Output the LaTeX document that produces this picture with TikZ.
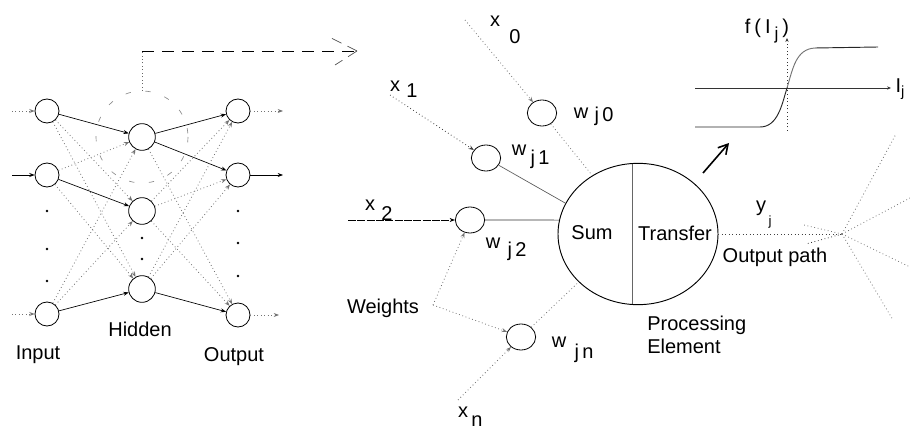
\documentclass[tikz,border=0pt]{standalone}
\usepackage{fontspec}
\setmainfont{Liberation Sans}
\usetikzlibrary{arrows.meta,shapes.geometric}
\begin{document}
\begin{tikzpicture}[x=0.75pt,y=-0.75pt,
  font=\fontsize{15}{17}\selectfont,
  neuron/.style={circle,draw,line width=0.6pt,minimum size=18pt,inner sep=0pt},
  hid/.style={neuron,minimum size=20pt},
  wt/.style={ellipse,draw,line width=0.6pt,minimum width=22pt,minimum height=19.5pt,inner sep=0pt},
  pe/.style={ellipse,draw,line width=0.7pt,minimum width=120pt,minimum height=106pt,inner sep=0pt},
  solidc/.style={line width=0.5pt,-{Stealth[length=4pt,width=3pt]}},
  dotc/.style={line width=0.6pt,black!55,dotted,-{Stealth[length=4pt,width=3pt]}},
  dotl/.style={line width=0.6pt,black!55,dotted},
  darkl/.style={line width=0.5pt,black!80},
  lbl/.style={inner sep=0pt},
]
\useasboundingbox (0,0) rectangle (910,431);

% ---------------- left network ----------------
\node[neuron] (i1) at (47,111) {};
\node[neuron] (i2) at (47,175) {};
\node[neuron] (i3) at (47,314) {};
\node[hid] (h1) at (142,137) {};
\node[hid] (h2) at (142,211) {};
\node[hid] (h3) at (142,289) {};
\node[neuron] (o1) at (238,111) {};
\node[neuron] (o2) at (238,175) {};
\node[neuron] (o3) at (238,315) {};

\foreach \p in {(47,211),(47,249),(47,281),(142,238),(142,259),(238,211),(238,243),(238,276)}
  \fill \p circle[radius=1.4];

\coordinate (in1) at (12,111);
\coordinate (in2) at (12,175);
\coordinate (in3) at (12,314);
\coordinate (out1) at (283,111);
\coordinate (out2) at (283,175);
\coordinate (out3) at (279,315);
\draw[dotc] (in1) -- (i1);
\draw[solidc] (in2) -- (i2);
\draw[dotc] (in3) -- (i3);
\draw[dotc] (o1) -- (out1);
\draw[solidc] (o2) -- (out2);
\draw[dotc] (o3) -- (out3);

\draw[solidc] (i1) -- (h1);
\draw[dotc] (i1) -- (h2);
\draw[dotc] (i1) -- (h3);
\draw[dotc] (i2) -- (h1);
\draw[solidc] (i2) -- (h2);
\draw[dotc] (i2) -- (h3);
\draw[dotc] (i3) -- (h1);
\draw[dotc] (i3) -- (h2);
\draw[solidc] (i3) -- (h3);
\draw[solidc] (h1) -- (o1);
\draw[solidc] (h1) -- (o2);
\draw[dotc] (h1) -- (o3);
\draw[dotc] (h2) -- (o1);
\draw[dotc] (h2) -- (o2);
\draw[dotc] (h2) -- (o3);
\draw[dotc] (h3) -- (o1);
\draw[dotc] (h3) -- (o2);
\draw[solidc] (h3) -- (o3);

% zoom callout
\draw[black!45,line width=0.5pt,dash pattern=on 4pt off 11pt] (h1.center) circle[radius=46];
\coordinate (ctop) at (142,91);
\coordinate (corner) at (142,51);
\coordinate (ztip) at (357,51);
\draw[black!60,dotted,line width=0.6pt] (ctop) -- (corner);
\draw[line width=0.7pt,dash pattern=on 9pt off 6pt] (corner) -- (ztip);
\draw[black!70,line width=0.5pt,dash pattern=on 8pt off 5pt] (ztip) -- ++(-28,-14);
\draw[black!70,line width=0.5pt,dash pattern=on 8pt off 5pt] (ztip) -- ++(-22,14);

\node[lbl] (linput) at (38,355) {Input};
\node[lbl] (lhidden) at (140,329) {Hidden};
\node[lbl] (loutput) at (234,357) {Output};

% ---------------- processing element ----------------
\node[pe] (pe) at (638,234) {};
\draw[black!60,line width=0.5pt] (632,164) -- (632,304);
\node[lbl] (sum) at (592,233) {Sum};
\node[lbl] (transfer) at (675,233) {Transfer};

\node[wt] (w0) at (542,113) {};
\node[wt] (w1) at (486,158) {};
\node[wt] (w2) at (470,220) {};
\node[wt] (wn) at (521,337) {};

\coordinate (sx0) at (465,20);
\coordinate (sx1) at (390,95);
\coordinate (sx2) at (348,220);
\coordinate (sxn) at (458,400);
\draw[dotc] (sx0) -- (w0);
\draw[dotc,black!75] (sx1) -- (w1);
\draw[solidc,dash pattern=on 6pt off 1pt] (sx2) -- (w2);
\draw[dotc] (sxn) -- (wn);

\draw[dotl] (w0) -- (pe.128);
\draw[darkl,black!65] (w1) -- (pe.157);
\draw[darkl] (w2) -- (pe.170);
\draw[dotl] (wn) -- (pe.219);

\node[lbl] (weights) at (383,308) {Weights};
\coordinate (wsrc) at (433,305);
\draw[dotc] (wsrc) -- (w2);
\draw[dotc] (wsrc) -- (wn);

% labels x, w
\node[lbl] (lx0) at (495,21) {x};
\node[lbl] (lx0s) at (515,37) {0};
\node[lbl] (lx1) at (395,86) {x};
\node[lbl] (lx1s) at (412,91) {1};
\node[lbl] (lx2) at (370,205) {x};
\node[lbl] (lx2s) at (387,214) {2};
\node[lbl] (lxn) at (463,412) {x};
\node[lbl] (lxns) at (477,421) {n};

\node[lbl] (lw0) at (581,113) {w};
\node[lbl] (lw0s) at (604,116) {j\,0};
\node[lbl] (lw1) at (519,150) {w};
\node[lbl] (lw1s) at (540,159) {j\,1};
\node[lbl] (lw2) at (493,243) {w};
\node[lbl] (lw2s) at (517,251) {j\,2};
\node[lbl] (lwn) at (559,342) {w};
\node[lbl] (lwns) at (584,353) {j\,n};

% ---------------- output ----------------
\coordinate (fan) at (842,234);
\draw[dotl,black!75] (pe.east) -- (fan);
\draw[dotl] (fan) -- ++(-38,-9);
\draw[dotl,black!80] (fan) -- ++(-36,10);
\coordinate (f1) at (896,134);
\coordinate (f2) at (910,198);
\coordinate (f3) at (910,267);
\coordinate (f4) at (893,320);
\draw[dotl] (fan) -- (f1);
\draw[dotl] (fan) -- (f2);
\draw[dotl] (fan) -- (f3);
\draw[dotl] (fan) -- (f4);
\node[lbl] (ly) at (761,208) {y};
\node[lbl] (lys) at (770,222) {\fontsize{10}{12}\selectfont j};
\node[lbl] (lout) at (775,257) {Output path};
\node[lbl,align=left,anchor=north west] (lproc) at (647,316) {Processing\\Element};

% ---------------- transfer function ----------------
\coordinate (ax0) at (695,88);
\coordinate (ax1) at (891,88);
\coordinate (ay0) at (787,131);
\coordinate (ay1) at (787,38);
\draw[line width=0.6pt,black!80,-{Stealth[length=3pt,width=2.5pt]}] (ax0) -- (ax1);
\draw[black!80,dotted,line width=0.7pt,-{Stealth[length=3pt,width=2.5pt]}] (ay0) -- (ay1);
\draw[line width=0.7pt,black!85] (695,127) -- (760,127) .. controls (778,127) and (782,104) .. (787,88);
\draw[line width=0.7pt,black!55] (787,88) .. controls (793,68) and (796,49) .. (815,48);
\draw[line width=0.7pt,black!85] (815,48) -- (878,47);
\node[lbl] (lf) at (767,31) {f\hspace{3pt}(\hspace{3pt}I\hspace{3pt}\raisebox{-5pt}{\fontsize{13}{14}\selectfont j}\hspace{3pt})};
\node[lbl] (lI) at (900,89) {I\raisebox{-3pt}{\fontsize{11}{13}\selectfont j}};
\coordinate (tf0) at (703,173);
\coordinate (tf1) at (729,143);
\draw[line width=1.2pt,-{Straight Barb[length=7pt,width=8pt]}] (tf0) -- (tf1);
\end{tikzpicture}
\end{document}
